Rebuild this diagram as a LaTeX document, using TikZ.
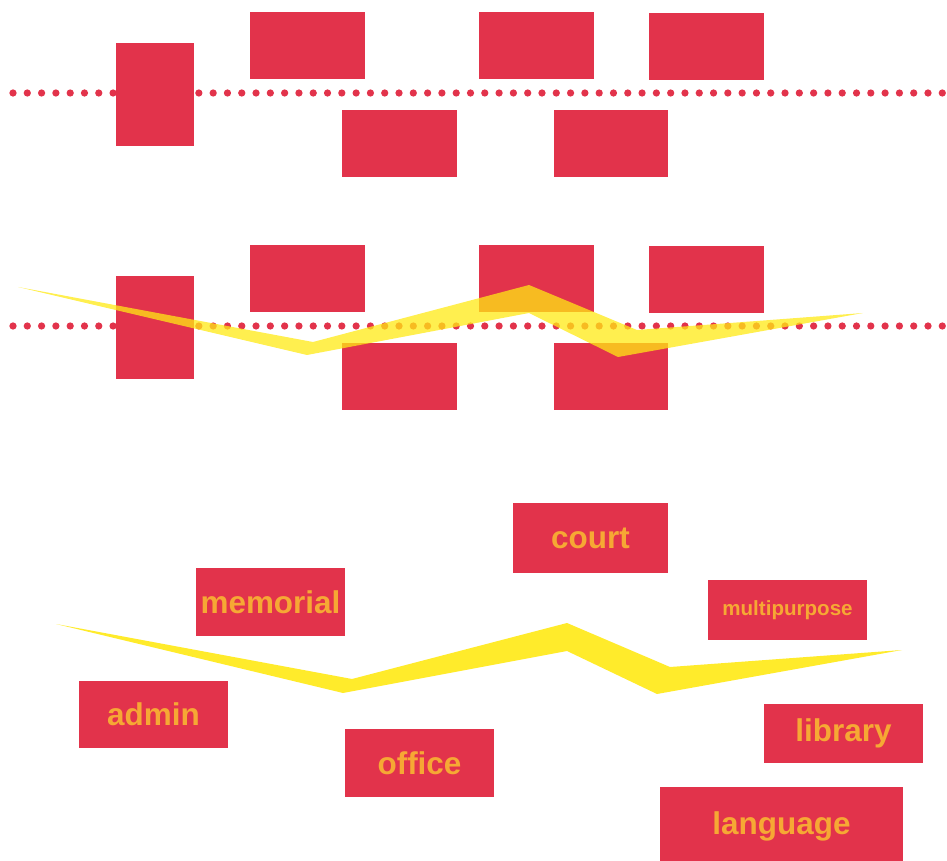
\documentclass[tikz,border=0pt]{standalone}
\usepackage{fontspec}
\setmainfont{Liberation Sans}
\definecolor{brick}{RGB}{226,51,75}
\definecolor{amber}{RGB}{246,168,52}
\definecolor{lemon}{RGB}{255,233,20}
\tikzset{
  blk/.style={fill=brick,inner sep=0pt,minimum width=2.3cm,minimum height=1.34cm},
  tag/.style={blk,text=amber,font=\bfseries\fontsize{17.9}{20}\selectfont},
  dotline/.style={draw=brick,line width=0.145cm,line cap=round,dash pattern=on 0pt off 0.286cm},
  band/.style={fill=lemon,fill opacity=0.75}
}
\begin{document}
\begin{tikzpicture}[x=0.02cm,y=-0.02cm]
\useasboundingbox (0,0) rectangle (947,861);
% two rows of blank blocks on a dotted axis
\foreach \p/\dy in {1/0,2/233}{
  \draw[dotline] (13,93+\dy) -- (947,93+\dy);
  \node[blk,minimum width=1.56cm,minimum height=2.06cm] (a\p) at (155,94.5+\dy) {};
  \node[blk] (b\p) at (307.5,45.5+\dy) {};
  \node[blk] (c\p) at (536.5,45.5+\dy) {};
  \node[blk] (d\p) at (706.5,46.5+\dy) {};
  \node[blk] (e\p) at (399.5,143.5+\dy) {};
  \node[blk] (f\p) at (611,143.5+\dy) {};
}
% zigzag band across the second row
\fill[band] (18,287) -- (313,342) -- (529,285) -- (637,330) -- (863,313)
  -- (618,357) -- (529,313) -- (307,355) -- cycle;

% labelled blocks
\node[tag,minimum width=3.1cm,minimum height=1.4cm] (court) at (590.5,538) {court};
\node[tag,minimum width=2.98cm,minimum height=1.36cm] (memorial) at (270.5,602) {memorial};
\node[tag,minimum width=3.18cm,minimum height=1.2cm,font=\bfseries\fontsize{11.7}{14}\selectfont] (multi) at (787.5,610) {multipurpose};
\node[tag,minimum width=2.98cm,minimum height=1.34cm] (admin) at (153.5,714.5) {admin};
\node[tag,minimum width=2.98cm,minimum height=1.36cm] (office) at (419.5,763) {office};
\node[tag,minimum width=3.18cm,minimum height=1.18cm] (library) at (843.5,733.5) {library};
\node[tag,minimum width=4.86cm,minimum height=1.58cm] (language) at (781.5,826.5) {language};
\fill[band,fill opacity=0.9] (56,624) -- (352,679) -- (567,623) -- (670,667) -- (902,650)
  -- (657,694) -- (567,651) -- (343,693) -- cycle;
\end{tikzpicture}
\end{document}
